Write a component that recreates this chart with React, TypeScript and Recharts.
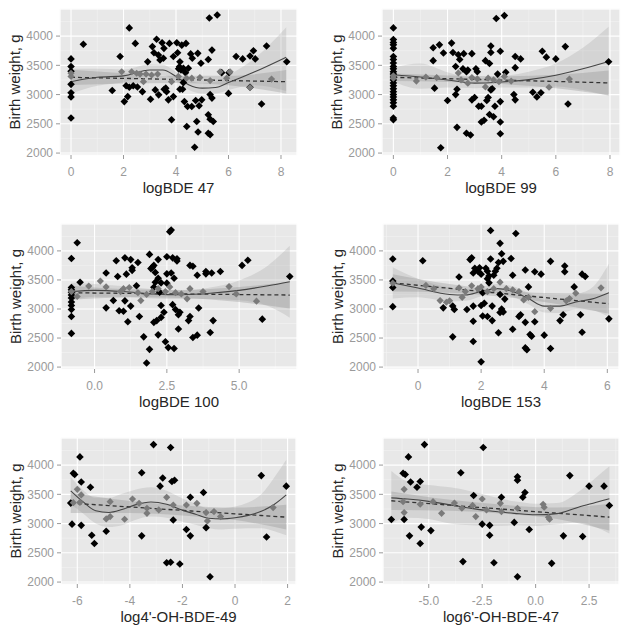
import React from 'react';
import { ComposedChart, XAxis, YAxis, CartesianGrid, Area, Line, Scatter } from 'recharts';

type Pt = [number, number];
type Band = [number, number, number, number]; // x, fit, lower, upper

const yTicks = [2000, 2500, 3000, 3500, 4000];
const yMinorTicks = [2250, 2750, 3250, 3750, 4250];
const yDomain: [number, number] = [1967, 4463];
const yTitle = 'Birth weight, g';

// ---------- logBDE 47 ----------
const bde47Black: Pt[] = [
  [0, 3610], [0, 3480], [0, 3400], [0, 3175], [0, 3030], [0, 2960], [0, 2600],
  [0.47, 3860], [1.57, 3070], [1.87, 3650], [2.03, 2880], [2.1, 3150], [2.16, 2965], [2.22, 3125],
  [2.22, 4140], [2.37, 3150], [2.45, 3875], [2.53, 3130], [2.72, 3050], [2.92, 3560], [3.03, 2920],
  [3.1, 3820], [3.16, 3715], [3.21, 3080], [3.26, 3945], [3.33, 3675], [3.34, 2995], [3.39, 3590],
  [3.47, 3885], [3.52, 3620], [3.54, 3790], [3.55, 3090], [3.61, 3110], [3.64, 3050], [3.71, 2910],
  [3.75, 3875], [3.83, 2570], [3.9, 2965], [3.9, 3650], [4.03, 3885], [4.06, 3715], [4.1, 3440],
  [4.13, 3475], [4.15, 3560], [4.15, 3090], [4.19, 3420], [4.22, 3845], [4.25, 3090], [4.28, 3450],
  [4.28, 3205], [4.32, 2880], [4.36, 3375], [4.38, 3875], [4.41, 2455], [4.44, 2795], [4.47, 3450],
  [4.56, 3695], [4.6, 2795], [4.62, 3620], [4.71, 2100], [4.75, 2900], [4.79, 2540], [4.83, 3705],
  [4.84, 2360], [4.88, 2810], [4.95, 3535], [4.98, 2910], [5.23, 2340], [5.23, 2655], [5.23, 3600],
  [5.27, 4310], [5.3, 2315], [5.3, 2580], [5.3, 3000], [5.37, 2940], [5.37, 3760], [5.42, 2540],
  [5.57, 4360], [5.74, 3375], [6.0, 3020], [6.02, 3375], [6.29, 3650], [6.54, 3610], [6.82, 3660],
  [6.82, 3125], [6.95, 3750], [7.02, 3610], [7.26, 2840], [7.45, 3830], [8.22, 3560],
];
const bde47Gray: Pt[] = [
  [0, 3310], [0, 3365], [1.93, 3390], [2.31, 3390], [2.5, 3365], [2.63, 3350], [2.76, 3220],
  [2.86, 3350], [3.07, 3335], [3.3, 3350], [3.83, 3220], [4.09, 3310], [4.4, 3280], [4.6, 3280],
  [4.91, 3290], [5.3, 3240], [5.68, 3390], [5.93, 3280], [6.06, 3390], [6.82, 3120], [7.64, 3265],
];
const bde47Loess: Band[] = [
  [0, 3220, 3020, 3440], [1, 3295, 3150, 3440], [2, 3320, 3210, 3430], [3, 3420, 3320, 3520],
  [3.5, 3420, 3330, 3510], [4, 3310, 3230, 3390], [4.5, 3165, 3080, 3250], [5, 3110, 3020, 3200],
  [5.5, 3120, 3020, 3220], [6, 3205, 3080, 3330], [7, 3390, 3160, 3620], [8.2, 3640, 3060, 4150],
];
const bde47Linear: Band[] = [
  [0, 3295, 3165, 3425], [2, 3277, 3190, 3365], [4, 3259, 3200, 3318], [6, 3240, 3160, 3320],
  [8.2, 3220, 3020, 3420],
];

// ---------- logBDE 99 ----------
const bde99Black: Pt[] = [
  [0, 4140], [0, 3940], [0, 3890], [0, 3850], [0, 3790], [0, 3650], [0, 3600], [0, 3540], [0, 3480],
  [0, 3440], [0, 3390], [0, 3350], [0, 3300], [0, 3250], [0, 3200], [0, 3150], [0, 3100], [0, 3050],
  [0, 3000], [0, 2960], [0, 2910], [0, 2860], [0, 2800], [0, 2600], [0, 2570],
  [1.47, 3800], [1.47, 3580], [1.52, 3110], [1.7, 3850], [1.85, 3710], [1.75, 2090], [2.0, 2900],
  [2.15, 3880], [2.2, 3720], [2.3, 3000], [2.3, 3480], [2.35, 2440], [2.35, 3090], [2.4, 3680],
  [2.45, 3600], [2.57, 3440], [2.6, 3700], [2.7, 3390], [2.75, 3420], [2.7, 2340], [2.85, 2310],
  [2.9, 3700], [2.9, 2910], [3.0, 2950], [3.05, 3440], [3.1, 3390], [3.15, 2800], [3.25, 2800],
  [3.25, 2530], [3.35, 2560], [3.4, 3580], [3.45, 2900], [3.5, 2950], [3.55, 3530], [3.6, 3830],
  [3.6, 3720], [3.6, 3080], [3.65, 3100], [3.55, 2660], [3.7, 2620], [3.75, 2800], [3.8, 4300],
  [3.85, 3350], [3.95, 3740], [3.95, 2880], [3.95, 2530], [3.95, 2330], [4.1, 4350], [4.15, 3380],
  [4.5, 3650], [4.5, 3460], [4.45, 3000], [4.5, 2910], [4.7, 3610], [5.15, 3040], [5.3, 2960],
  [5.45, 3030], [5.5, 3740], [5.65, 3640], [6.0, 3610], [6.35, 3820], [6.45, 2840], [7.95, 3560],
];
const bde99Gray: Pt[] = [
  [0, 3320], [0, 3280], [0.85, 3230], [1.2, 3300], [1.6, 3290], [2.4, 3370], [2.5, 3250],
  [2.75, 3195], [2.9, 3290], [3.1, 3270], [3.4, 3130], [3.5, 3280], [3.7, 3250], [3.9, 3220],
  [4.1, 3310], [4.35, 3230], [5.75, 3125], [6.5, 3265],
];
const bde99Loess: Band[] = [
  [0, 3340, 3220, 3460], [1, 3300, 3100, 3530], [2, 3250, 3120, 3380], [3, 3195, 3110, 3280],
  [4, 3215, 3120, 3310], [5, 3255, 3120, 3390], [6, 3330, 3140, 3530], [7, 3440, 3080, 3800],
  [7.95, 3565, 2980, 4160],
];
const bde99Linear: Band[] = [
  [0, 3295, 3230, 3360], [2, 3271, 3215, 3327], [4, 3247, 3180, 3314], [6, 3224, 3110, 3338],
  [7.95, 3200, 2990, 3410],
];

// ---------- logBDE 100 ----------
const bde100Black: Pt[] = [
  [-0.8, 3870], [-0.8, 3370], [-0.8, 3330], [-0.8, 3290], [-0.8, 3240], [-0.8, 3190], [-0.8, 3120],
  [-0.8, 3060], [-0.8, 2990], [-0.8, 2870], [-0.8, 2580],
  [-0.6, 4140], [-0.5, 3460], [0.4, 3620], [0.4, 3020], [0.65, 3145], [0.8, 3560], [0.75, 3830],
  [0.85, 2970], [1.0, 2960], [1.05, 3880], [1.05, 3140], [1.1, 3600], [1.15, 2780], [1.25, 3850],
  [1.3, 3710], [1.3, 3665], [1.25, 3050], [1.5, 3800], [1.55, 2870], [1.45, 3400], [1.7, 2520],
  [1.9, 2305], [1.9, 3940], [1.95, 3695], [2.0, 3720], [2.05, 3750], [2.1, 3630], [1.8, 2070],
  [2.05, 2770], [2.15, 2800], [2.2, 2555], [2.05, 3375], [2.1, 3460], [2.2, 3530], [2.2, 3850],
  [2.3, 3450], [2.25, 3290], [2.3, 3060], [2.3, 2855], [2.4, 2945], [2.45, 2435], [2.5, 3900],
  [2.5, 3605], [2.5, 3445], [2.55, 2335], [2.6, 4330], [2.65, 4360], [2.7, 3880], [2.65, 3620],
  [2.75, 3530], [2.7, 3075], [2.75, 2320], [2.85, 3865], [2.85, 3825], [2.8, 2990], [2.9, 2900],
  [2.95, 2945], [2.9, 2655], [3.3, 2870], [3.25, 2800], [3.3, 3750], [3.4, 3735], [3.4, 2510],
  [3.55, 2550], [3.6, 3017], [3.55, 3580], [3.85, 3645], [3.85, 3605], [4.0, 2595], [4.05, 3620],
  [4.1, 2800], [4.35, 3645], [5.1, 3750], [5.3, 3840], [5.8, 2825], [6.75, 3560],
];
const bde100Gray: Pt[] = [
  [-0.8, 3300], [-0.6, 3215], [-0.2, 3395], [0.2, 3480], [0.4, 3380], [0.9, 3300], [1.0, 3350],
  [1.2, 3370], [1.5, 3280], [1.6, 3145], [1.8, 3250], [2.0, 3300], [2.2, 3350], [2.45, 3300],
  [2.6, 3380], [2.8, 3280], [3.0, 3260], [3.2, 3175], [3.3, 3350], [3.75, 3300], [4.65, 3385],
  [4.9, 3260], [5.6, 3135],
];
const bde100Loess: Band[] = [
  [-0.8, 3300, 3150, 3450], [0, 3320, 3210, 3430], [1, 3300, 3210, 3390], [2, 3260, 3180, 3340],
  [3, 3245, 3170, 3320], [4, 3270, 3170, 3370], [5, 3320, 3150, 3490], [6, 3400, 3050, 3750],
  [6.75, 3470, 2850, 4090],
];
const bde100Linear: Band[] = [
  [-0.8, 3279, 3160, 3400], [1.5, 3267, 3200, 3334], [3, 3259, 3190, 3328], [5, 3249, 3120, 3378],
  [6.75, 3240, 3010, 3470],
];

// ---------- logBDE 153 ----------
const bde153Black: Pt[] = [
  [-0.8, 3860], [-0.8, 3480], [-0.8, 3370], [-0.8, 3040], [0.15, 3830], [0.8, 3020], [1.1, 3050],
  [1.15, 2990], [1.1, 2520], [1.3, 3550], [1.55, 2990], [1.65, 3850], [1.7, 3880], [1.75, 3620],
  [1.75, 3050], [1.75, 2790], [1.75, 2440], [1.8, 3700], [1.9, 3650], [1.95, 3710], [2.0, 3600],
  [2.0, 3060], [2.05, 2880], [2.1, 3100], [2.0, 2090], [2.05, 3280], [2.15, 3700], [2.2, 3650],
  [2.2, 3520], [2.25, 3450], [2.25, 3570], [2.3, 4350], [2.2, 2870], [2.3, 3860], [2.35, 2800],
  [2.35, 3050], [2.4, 3580], [2.45, 3650], [2.5, 3700], [2.55, 3800], [2.55, 2590], [2.6, 4130],
  [2.6, 3250], [2.6, 2940], [2.65, 3000], [2.65, 3950], [2.7, 3820], [2.7, 2950], [2.75, 3170],
  [2.95, 3870], [3.0, 3580], [3.0, 2650], [3.1, 4300], [3.2, 2870], [3.25, 2900], [3.4, 3670],
  [3.4, 2770], [3.4, 2330], [3.45, 2300], [3.5, 3380], [3.55, 2560], [3.6, 2530], [3.7, 3640],
  [3.7, 2780], [3.9, 3600], [4.0, 2550], [4.2, 2320], [4.2, 3820], [4.5, 2800], [4.6, 2900],
  [4.65, 3740], [4.65, 3640], [4.95, 3380], [5.15, 2900], [5.2, 2600], [5.2, 3600], [5.3, 3560],
  [6.05, 2830],
];
const bde153Gray: Pt[] = [
  [-0.8, 3445], [0.25, 3405], [0.5, 3350], [0.7, 3145], [0.9, 3116], [1.0, 3140], [1.3, 3364],
  [1.4, 3200], [1.5, 3300], [1.7, 3400], [1.9, 3350], [2.0, 3380], [2.2, 3300], [2.4, 3350],
  [2.6, 3462], [2.8, 3350], [3.0, 3330], [3.2, 3300], [3.35, 3156], [3.5, 3200], [3.7, 2954],
  [4.2, 3012], [4.7, 3140], [4.8, 3180], [5.0, 3272], [5.8, 3364],
];
const bde153Loess: Band[] = [
  [-0.8, 3450, 3180, 3720], [0, 3360, 3200, 3520], [1, 3250, 3130, 3370], [1.5, 3240, 3140, 3340],
  [2, 3300, 3220, 3380], [2.5, 3350, 3270, 3430], [3, 3300, 3210, 3390], [3.5, 3180, 3080, 3280],
  [4, 3050, 2940, 3160], [4.5, 3050, 2930, 3170], [5, 3120, 2990, 3250], [5.5, 3170, 2980, 3360],
  [6.05, 3280, 2860, 3780],
];
const bde153Linear: Band[] = [
  [-0.8, 3450, 3300, 3600], [1, 3355, 3280, 3430], [2.5, 3276, 3220, 3332], [4, 3197, 3120, 3274],
  [6.05, 3090, 2920, 3260],
];

// ---------- log4'-OH-BDE-49 ----------
const oh49Black: Pt[] = [
  [-6.15, 3860], [-6.1, 3840], [-6.25, 3350], [-6.2, 2990], [-5.9, 4140], [-5.85, 3710],
  [-5.85, 2970], [-5.5, 3620], [-5.45, 2800], [-5.35, 2660], [-4.9, 2870], [-3.55, 3870],
  [-3.55, 2790], [-3.1, 4350], [-2.85, 3640], [-2.75, 3780], [-2.6, 2330], [-2.45, 2340],
  [-2.45, 4300], [-2.4, 3720], [-2.3, 3740], [-2.35, 3060], [-2.1, 2310], [-1.85, 2900],
  [-1.7, 3450], [-1.7, 2790], [-1.2, 3530], [-1.1, 2930], [-0.95, 2090], [1.0, 3820], [1.2, 2770],
  [1.95, 3640],
];
const oh49Gray: Pt[] = [
  [-6.0, 3585], [-5.85, 3490], [-6.15, 3358], [-5.9, 3364], [-4.9, 3080], [-4.75, 3120],
  [-4.75, 3375], [-4.2, 3074], [-3.9, 3420], [-3.65, 3347], [-3.35, 3262], [-3.35, 3176],
  [-2.9, 3233], [-2.6, 3449], [-2.35, 3318], [-1.85, 3318], [-1.45, 3347], [-1.1, 3188],
  [-1.05, 3046], [-0.8, 3205], [-0.55, 3120], [1.45, 3273],
];
const oh49Loess: Band[] = [
  [-6.25, 3560, 3330, 3790], [-5.8, 3380, 3180, 3580], [-5.3, 3220, 3000, 3440],
  [-4.8, 3190, 2940, 3440], [-4.3, 3240, 2970, 3510], [-3.8, 3320, 3060, 3580],
  [-3.2, 3370, 3120, 3620], [-2.6, 3330, 3100, 3560], [-2, 3230, 3030, 3430],
  [-1.5, 3160, 2980, 3340], [-1, 3090, 2920, 3260], [-0.5, 3080, 2900, 3260], [0, 3100, 2910, 3290],
  [0.5, 3140, 2920, 3360], [1, 3210, 2920, 3500], [1.5, 3330, 2870, 3790], [1.95, 3490, 2800, 4090],
];
const oh49Linear: Band[] = [
  [-6.25, 3350, 3180, 3520], [-4, 3284, 3180, 3388], [-2, 3225, 3140, 3310], [0, 3167, 3060, 3274],
  [1.95, 3110, 2900, 3320],
];

// ---------- log6'-OH-BDE-47 ----------
const oh47Black: Pt[] = [
  [-6.75, 3070], [-6.2, 3860], [-6.1, 3840], [-6.15, 3070], [-5.95, 4140], [-5.85, 3710],
  [-5.9, 2790], [-5.55, 3620], [-5.4, 3720], [-5.35, 2940], [-5.4, 2660], [-5.2, 4350],
  [-4.9, 2880], [-3.5, 3870], [-3.4, 2350], [-2.9, 3480], [-2.45, 4300], [-2.5, 2990],
  [-2.15, 2970], [-2.15, 2800], [-1.95, 2330], [-1.6, 3450], [-1.0, 3020], [-0.85, 3800],
  [-0.85, 3740], [-0.85, 2090], [-0.6, 3450], [-0.5, 3530], [-0.3, 2900], [0.75, 2320],
  [1.3, 2790], [1.6, 3820], [2.2, 2780], [2.5, 3640], [3.2, 3640], [3.45, 3310],
];
const oh47Gray: Pt[] = [
  [-6.15, 3585], [-6.2, 3375], [-6.15, 3188], [-5.4, 3330], [-4.8, 3375], [-4.4, 3176],
  [-3.8, 3350], [-3.45, 3262], [-2.95, 3310], [-2.8, 3120], [-2.5, 3420], [-2.3, 3233],
  [-1.65, 3347], [-1.6, 3205], [-0.85, 3262], [0.35, 3330], [0.4, 3279], [0.6, 3108], [0.65, 3074],
];
const oh47Loess: Band[] = [
  [-6.75, 3440, 3000, 3900], [-6, 3420, 3100, 3720], [-5, 3380, 3080, 3660], [-4, 3320, 3000, 3620],
  [-3, 3260, 2970, 3550], [-2, 3210, 2960, 3460], [-1, 3175, 2970, 3380], [0, 3150, 2960, 3340],
  [1, 3170, 2990, 3350], [2, 3280, 3020, 3540], [2.8, 3360, 2940, 3780], [3.45, 3425, 2830, 3980],
];
const oh47Linear: Band[] = [
  [-6.75, 3390, 3230, 3550], [-4, 3314, 3220, 3408], [-1.5, 3245, 3170, 3320], [1, 3177, 3080, 3274],
  [3.45, 3110, 2880, 3340],
];

const fmtInt = (v: number) => String(v);
const fmtDec = (v: number) => v.toFixed(1);

const panels = [
  { title: 'logBDE 47', left: 60, top: 9, w: 237, h: 146, xDomain: [-0.42, 8.61], xTicks: [0, 2, 4, 6, 8], xMinor: [1, 3, 5, 7], fmt: fmtInt, black: bde47Black, gray: bde47Gray, loess: bde47Loess, linear: bde47Linear },
  { title: 'logBDE 99', left: 382, top: 9, w: 238, h: 146, xDomain: [-0.42, 8.37], xTicks: [0, 2, 4, 6, 8], xMinor: [1, 3, 5, 7], fmt: fmtInt, black: bde99Black, gray: bde99Gray, loess: bde99Loess, linear: bde99Linear },
  { title: 'logBDE 100', left: 61, top: 223.5, w: 236, h: 145, xDomain: [-1.16, 7.0], xTicks: [0, 2.5, 5], xMinor: [1.25, 3.75, 6.25], fmt: fmtDec, black: bde100Black, gray: bde100Gray, loess: bde100Loess, linear: bde100Linear },
  { title: 'logBDE 153', left: 383, top: 223.5, w: 236, h: 145, xDomain: [-1.11, 6.37], xTicks: [0, 2, 4, 6], xMinor: [-1, 1, 3, 5], fmt: fmtInt, black: bde153Black, gray: bde153Gray, loess: bde153Loess, linear: bde153Linear },
  { title: "log4'-OH-BDE-49", left: 61, top: 438, w: 235, h: 146, xDomain: [-6.62, 2.32], xTicks: [-6, -4, -2, 0, 2], xMinor: [-5, -3, -1, 1], fmt: fmtInt, black: oh49Black, gray: oh49Gray, loess: oh49Loess, linear: oh49Linear },
  { title: "log6'-OH-BDE-47", left: 383, top: 438, w: 236, h: 146, xDomain: [-7.14, 3.9], xTicks: [-5, -2.5, 0, 2.5], xMinor: [-6.25, -3.75, -1.25, 1.25, 3.75], fmt: fmtDec, black: oh47Black, gray: oh47Gray, loess: oh47Loess, linear: oh47Linear },
];

const FONT = '"Liberation Sans", Arial, Helvetica, sans-serif';
const TICK_COLOR = '#9a9a9a';
const TITLE_COLOR = '#262626';

const diamond = (fill: string, r: number) => (props: any) => {
  const { cx, cy } = props;
  if (cx == null || cy == null || isNaN(cx) || isNaN(cy)) return <g />;
  return <path d={`M${cx},${cy - r}L${cx + r},${cy}L${cx},${cy + r}L${cx - r},${cy}Z`} fill={fill} />;
};
const blackShape = diamond('#000000', 3.8);
const grayShape = diamond('#7a7a7a', 3.6);

const YAXIS_W = 60;
const TOP_M = 5;
const XAXIS_H = 45;
const RIGHT_M = 8;

function Panel({ p }: { p: (typeof panels)[number] }) {
  const pts = (arr: Pt[]) => arr.map(([x, y]) => ({ x, y }));
  const band = (arr: Band[]) => arr.map(([x, y, lo, hi]) => ({ x, y, lo, hi, range: [lo, hi] }));
  const loess = band(p.loess);
  const linear = band(p.linear);
  return (
    <div style={{ position: 'absolute', left: p.left - YAXIS_W, top: p.top - TOP_M }}>
      <ComposedChart
        width={YAXIS_W + p.w + RIGHT_M}
        height={TOP_M + p.h + XAXIS_H}
        margin={{ top: TOP_M, right: RIGHT_M, bottom: 0, left: 0 }}
        style={{ fontFamily: FONT }}
      >
        <XAxis xAxisId="minor" type="number" dataKey="x" domain={p.xDomain} ticks={p.xMinor} allowDataOverflow hide />
        <YAxis yAxisId="minor" type="number" domain={yDomain} ticks={yMinorTicks} allowDataOverflow hide />
        <CartesianGrid xAxisId="minor" yAxisId="minor" stroke="#f3f3f3" strokeWidth={0.6} fill="#e8e8e8" fillOpacity={1} />
        <CartesianGrid stroke="#ffffff" strokeWidth={1.1} />
        <XAxis
          type="number"
          dataKey="x"
          domain={p.xDomain}
          ticks={p.xTicks}
          interval={0}
          allowDataOverflow
          tickFormatter={p.fmt}
          axisLine={false}
          tickLine={{ stroke: '#9a9a9a' }}
          tickSize={4}
          tickMargin={8}
          height={XAXIS_H}
          tick={{ fill: TICK_COLOR, fontSize: 12, fontFamily: FONT }}
          label={{ value: p.title, position: 'insideBottom', offset: 7, fill: TITLE_COLOR, fontSize: 15, fontFamily: FONT }}
        />
        <YAxis
          type="number"
          domain={yDomain}
          ticks={yTicks}
          interval={0}
          allowDataOverflow
          axisLine={false}
          tickLine={{ stroke: '#9a9a9a' }}
          tickSize={4}
          tickMargin={3}
          width={YAXIS_W}
          tick={{ fill: TICK_COLOR, fontSize: 12, fontFamily: FONT }}
          label={{ value: yTitle, angle: -90, position: 'insideLeft', offset: 15, fill: TITLE_COLOR, fontSize: 15, fontFamily: FONT, style: { textAnchor: 'middle' } }}
        />
        <Area data={loess} dataKey="range" type="monotone" stroke="none" fill="#8c8c8c" fillOpacity={0.22} isAnimationActive={false} dot={false} activeDot={false} />
        <Area data={linear} dataKey="range" type="monotone" stroke="none" fill="#858585" fillOpacity={0.3} isAnimationActive={false} dot={false} activeDot={false} />
        <Scatter data={pts(p.black)} dataKey="y" shape={blackShape} isAnimationActive={false} />
        <Scatter data={pts(p.gray)} dataKey="y" shape={grayShape} isAnimationActive={false} />
        <Line data={linear} dataKey="y" type="monotone" stroke="#333333" strokeWidth={1.3} strokeDasharray="4 3" dot={false} activeDot={false} isAnimationActive={false} />
        <Line data={loess} dataKey="y" type="monotone" stroke="#444444" strokeWidth={1.1} dot={false} activeDot={false} isAnimationActive={false} />
      </ComposedChart>
    </div>
  );
}

export default function App() {
  return (
    <div style={{ position: 'absolute', left: 0, top: 0, width: 629, height: 632, background: '#ffffff', overflow: 'hidden' }}>
      {panels.map((p) => (
        <Panel key={p.title} p={p} />
      ))}
    </div>
  );
}
